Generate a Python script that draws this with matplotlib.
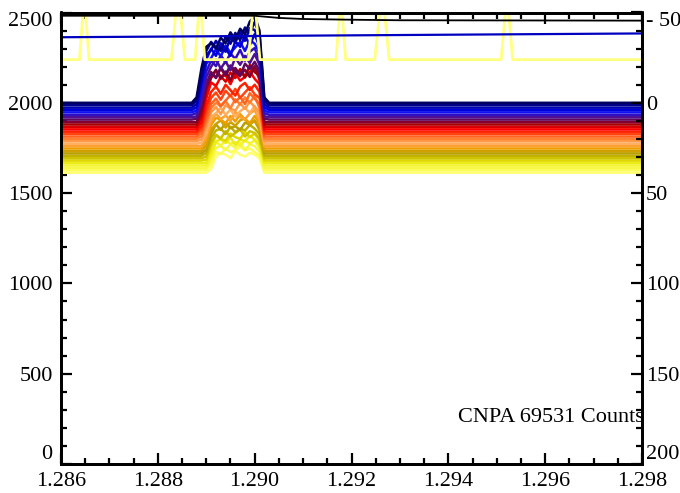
import numpy as np
import matplotlib
matplotlib.use("Agg")
import matplotlib.pyplot as plt
from matplotlib.ticker import MultipleLocator

plt.rcParams['font.family'] = ['Liberation Serif', 'DejaVu Serif']
plt.rcParams['font.size'] = 16

# wavelength grid: flat ends plus the peak region
x_peak = [1.2887, 1.2888, 1.2889, 1.2890, 1.2891, 1.2892, 1.2893, 1.2894, 1.2895,
          1.2896, 1.2897, 1.2898, 1.2899, 1.2900, 1.2901, 1.2902, 1.2903]
x_lo, x_hi = 1.2860, 1.2980

# baseline counts of each spectrum (top = first)
baseline = [2000, 1987, 1973, 1960, 1947, 1933, 1920, 1907, 1893, 1880,
            1867, 1853, 1840, 1827, 1813, 1800, 1787, 1773, 1760, 1747,
            1733, 1720, 1707, 1693, 1680, 1667, 1653, 1640, 1627, 1613]

# counts above baseline across the peak
excess = [
    [0, 30, 190, 310, 330, 300, 360, 330, 390, 350, 410, 380, 450, 480, 400, 30, 0],
    [0, 25, 170, 300, 350, 320, 300, 380, 340, 400, 360, 430, 400, 460, 390, 25, 0],
    [0, 20, 160, 290, 320, 370, 330, 310, 390, 360, 420, 370, 440, 430, 370, 20, 0],
    [0, 15, 150, 280, 340, 300, 370, 340, 300, 380, 350, 410, 360, 420, 350, 15, 0],
    [0, 10, 130, 270, 300, 350, 310, 370, 330, 360, 390, 340, 400, 380, 330, 10, 0],
    [0, 10, 110, 240, 300, 270, 330, 290, 340, 310, 360, 300, 350, 370, 300, 10, 0],
    [0, 5, 90, 220, 280, 320, 270, 310, 260, 330, 290, 340, 300, 350, 290, 5, 0],
    [0, 5, 80, 200, 260, 230, 290, 250, 300, 270, 240, 310, 280, 320, 270, 5, 0],
    [0, 0, 70, 190, 250, 290, 240, 280, 230, 300, 260, 290, 250, 310, 260, 0, 0],
    [0, 0, 60, 200, 290, 260, 310, 270, 320, 280, 300, 260, 330, 290, 270, 0, 0],
    [0, 0, 50, 190, 270, 310, 280, 250, 300, 270, 320, 280, 300, 330, 260, 0, 0],
    [0, 0, 40, 170, 260, 240, 290, 300, 250, 310, 270, 290, 320, 280, 250, 0, 0],
    [0, 0, 30, 140, 220, 250, 210, 260, 230, 200, 250, 270, 230, 260, 220, 0, 0],
    [0, 0, 25, 120, 200, 230, 190, 240, 210, 250, 200, 230, 260, 220, 200, 0, 0],
    [0, 0, 20, 100, 180, 210, 170, 200, 230, 190, 220, 180, 240, 210, 180, 0, 0],
    [0, 0, 15, 90, 170, 200, 180, 210, 170, 220, 190, 230, 200, 240, 170, 0, 0],
    [0, 0, 10, 80, 160, 190, 150, 200, 180, 170, 210, 180, 220, 190, 160, 0, 0],
    [0, 0, 5, 60, 150, 170, 200, 160, 190, 150, 180, 200, 170, 210, 150, 0, 0],
    [0, 0, 0, 50, 140, 180, 150, 170, 140, 190, 160, 150, 180, 200, 140, 0, 0],
    [0, 0, 0, 40, 130, 170, 160, 140, 180, 150, 190, 160, 140, 180, 140, 0, 0],
    [0, 0, 0, 30, 120, 150, 170, 130, 160, 140, 170, 180, 150, 170, 130, 0, 0],
    [0, 0, 0, 20, 110, 160, 130, 170, 140, 150, 130, 170, 160, 180, 130, 0, 0],
    [0, 0, 0, 15, 100, 140, 150, 120, 160, 130, 150, 140, 170, 150, 120, 0, 0],
    [0, 0, 0, 10, 90, 130, 110, 150, 120, 140, 160, 120, 150, 140, 110, 0, 0],
    [0, 0, 0, 5, 80, 140, 120, 110, 150, 130, 120, 160, 130, 150, 110, 0, 0],
    [0, 0, 0, 0, 60, 120, 130, 110, 140, 100, 130, 120, 150, 130, 100, 0, 0],
    [0, 0, 0, 0, 50, 130, 110, 140, 120, 130, 110, 140, 120, 140, 100, 0, 0],
    [0, 0, 0, 0, 40, 110, 120, 100, 130, 110, 140, 100, 130, 120, 90, 0, 0],
    [0, 0, 0, 0, 30, 100, 90, 120, 100, 110, 130, 110, 120, 100, 80, 0, 0],
    [0, 0, 0, 0, 20, 90, 110, 100, 80, 120, 100, 90, 110, 100, 80, 0, 0],
]

colors = ['#000060', '#000088', '#0000b4', '#0000dc', '#1010f0', '#3010c0',
          '#501090', '#600860', '#800030', '#a80000', '#d80000', '#ff0000',
          '#ff2000', '#ff4410', '#ff6420', '#ff8030', '#ff9a48', '#ffb060',
          '#ffa030', '#eca000', '#d0a000', '#b8a000', '#c0b000', '#d0c400',
          '#e0d800', '#ecec18', '#f4f430', '#f8f848', '#fcfc5c', '#ffff70']

# overlay traces
yel_x = [1.2860, 1.28638, 1.28648, 1.28658, 1.28828, 1.28842, 1.28856, 1.28877,
         1.28887, 1.28897, 1.28987, 1.28999, 1.29011, 1.29168, 1.29178, 1.29188,
         1.29248, 1.29263, 1.29278, 1.29509, 1.29521, 1.29533, 1.2980]
yel_y = [2239, 2239, 2590, 2239, 2239, 2630, 2239, 2239,
         2590, 2239, 2239, 2600, 2239, 2239, 2590, 2239,
         2239, 2630, 2239, 2239, 2600, 2239, 2239]
blk_x = [1.2860, 1.2900, 1.2905, 1.2910, 1.2920, 1.2930, 1.2980]
blk_y = [2482, 2482, 2470, 2464, 2460, 2457, 2455]
blu_x = [1.2860, 1.2980]
blu_y = [2363, 2384]

fig = plt.figure(figsize=(6.8, 4.93), dpi=100)
ax = fig.add_axes([61 / 680, 1 - 464 / 493, 581 / 680, 451.5 / 493])

xs = [x_lo] + x_peak + [x_hi]
for i in range(len(baseline) - 1, -1, -1):
    ys = [baseline[i]] + [baseline[i] + e for e in excess[i]] + [baseline[i]]
    ax.plot(xs, ys, color=colors[i], lw=1.8)

ax.plot(yel_x, yel_y, color='#ffff80', lw=2.0)
ax.plot(blu_x, blu_y, color='#0000c0', lw=1.6)
ax.plot(blk_x, blk_y, color='black', lw=1.3)

ax.set_xlim(1.286, 1.298)
ax.set_ylim(0, 2500)
ax.set_xticks(np.arange(1.286, 1.2985, 0.002))
ax.set_xticklabels(['1.286', '1.288', '1.290', '1.292', '1.294', '1.296', '1.298'])
ax.xaxis.set_minor_locator(MultipleLocator(0.0005))
ax.set_yticks([0, 500, 1000, 1500, 2000, 2500])
ax.yaxis.set_minor_locator(MultipleLocator(100))
ax.tick_params(which='both', direction='in', top=True, right=False, width=1.6)
ax.tick_params(which='major', length=8)
ax.tick_params(which='minor', length=4)
ax.tick_params(axis='x', pad=6)
ax.tick_params(axis='y', pad=6)
for s in ax.spines.values():
    s.set_linewidth(2)
ylabs = ax.get_yticklabels()
ylabs[0].set_va('bottom')
ylabs[-1].set_va('top')

ax2 = ax.twinx()
ax2.set_ylim(200, -50)
ax2.set_yticks([-50, 0, 50, 100, 150, 200])
ax2.set_yticklabels(['- 50', '0', '50', '100', '150', '200'])
ax2.yaxis.set_minor_locator(MultipleLocator(10))
ax2.tick_params(which='both', direction='in', width=1.6, pad=3)
ax2.tick_params(which='major', length=8)
ax2.tick_params(which='minor', length=4)
for s in ax2.spines.values():
    s.set_linewidth(2)
rlabs = ax2.get_yticklabels()
rlabs[0].set_va('top')
rlabs[-1].set_va('bottom')

ax.text(1.003, 0.102, 'CNPA 69531 Counts', transform=ax.transAxes,
        ha='right', va='center', fontsize=16, zorder=1)

fig.savefig('out.png', dpi=100)
